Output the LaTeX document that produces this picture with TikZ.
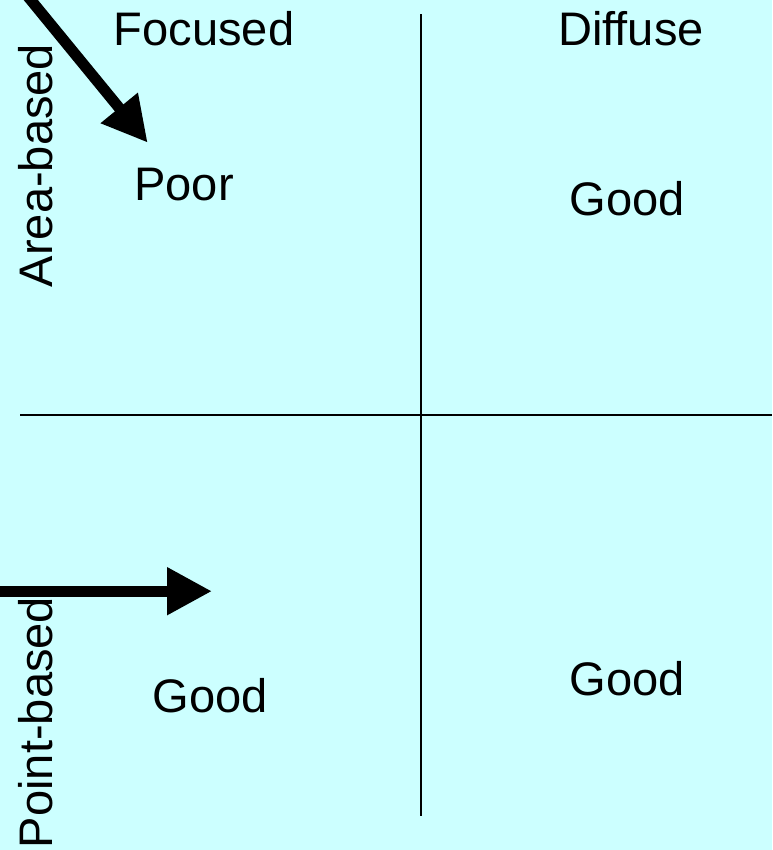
\documentclass[tikz,border=0pt]{standalone}
\usepackage{fontspec}
\setmainfont{Liberation Sans}
\usepackage{xcolor}
\usetikzlibrary{arrows.meta}
\definecolor{paleCyan}{RGB}{204,255,255}

\begin{document}
\begin{tikzpicture}[x=0.75pt,y=-0.75pt,
    lbl/.style={inner sep=0pt,anchor=base,font=\fontsize{35.3}{40}\selectfont},
    axis/.style={line width=1.5pt},
    bigarrow/.style={line width=8.25pt,-{Triangle[length=33.75pt,width=33.75pt]}}]
    \useasboundingbox (0,0) rectangle (772,850);
    \fill[paleCyan] (0,0) rectangle (772,850);
    \clip (0,0) rectangle (772,850);

    % column headers
    \node[lbl] (focused) at (204,45) {Focused};
    \node[lbl] (diffuse) at (631,45) {Diffuse};
    % row labels
    \node[lbl,rotate=90] (area) at (52,165.5) {Area-based};
    \node[lbl,rotate=90] (point) at (52,722.5) {Point-based};
    % cells
    \node[lbl] (poor) at (184,200) {Poor};
    \node[lbl] (goodTR) at (627,215) {Good};
    \node[lbl] (goodBL) at (210,712) {Good};
    \node[lbl] (goodBR) at (627,695) {Good};

    % quadrant lines
    \coordinate (vtop) at (420.5,14);
    \coordinate (vbot) at (420.5,816);
    \coordinate (hleft) at (20,415);
    \coordinate (hright) at (772,415);
    \draw[axis] (vtop) -- (vbot);
    \draw[axis] (hleft) -- (hright);

    % arrows
    \coordinate (aStart) at (22.6,-10);
    \coordinate (aTip) at (147.7,142.7);
    \coordinate (pStart) at (-10,591.2);
    \coordinate (pTip) at (212,591.2);
    \draw[bigarrow] (aStart) -- (aTip);
    \draw[bigarrow] (pStart) -- (pTip);
\end{tikzpicture}
\end{document}
